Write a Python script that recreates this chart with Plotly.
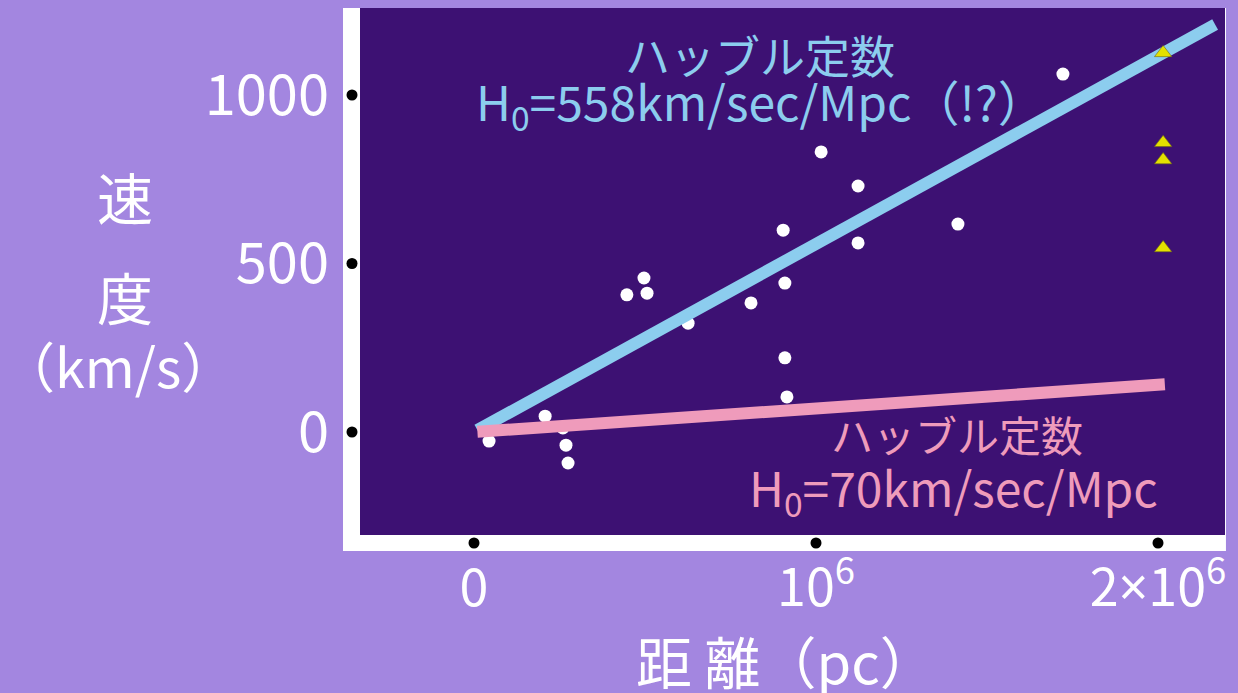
import plotly.graph_objects as go

# Galaxy distances (pc) and recession velocities (km/s)
dist_pc = [0.044e6, 0.208e6, 0.260e6, 0.269e6, 0.275e6, 0.447e6, 0.497e6, 0.506e6,
           0.626e6, 0.810e6, 0.909e6, 0.904e6, 0.909e6, 0.915e6, 1.015e6, 1.123e6,
           1.123e6, 1.415e6, 1.722e6]
vel_kms = [-27, 47, 12, -39, -92, 407, 457, 412,
           323, 383, 442, 599, 220, 104, 831, 730,
           561, 617, 1062]

# Cluster points plotted at the right edge
tri_dist_pc = [2.015e6, 2.015e6, 2.015e6, 2.015e6]
tri_vel_kms = [1125, 858, 807, 546]

# Hubble constants (km/s/Mpc) and extent of each line (pc)
h0_values = [558, 70]
line_start_pc = [0.01e6, 0.01e6]
line_end_pc = [2.167e6, 2.02e6]
line_colors = ["#8ccdee", "#ef9bbb"]

x_tickvals = [0, 1e6, 2e6]
x_ticktext = ["0", "10<sup>6</sup>",
              "2<span style='font-family:Noto Sans'>×</span>10<sup>6</sup>"]
y_tickvals = [0, 500, 1000]
y_ticktext = ["0", "500", "1000"]

BG = "#a386e0"
PLOT_BG = "#3d1173"
JP_FONT = "Noto Sans CJK JP"

fig = go.Figure()

fig.add_trace(go.Scatter(x=dist_pc, y=vel_kms, mode="markers", hoverinfo="skip",
                         marker=dict(color="white", size=13, line=dict(width=0))))

for h0, x0, x1, col in zip(h0_values, line_start_pc, line_end_pc, line_colors):
    xs = [x0, x1]
    ys = [h0 * x / 1e6 for x in xs]
    fig.add_trace(go.Scatter(x=xs, y=ys, mode="lines",
                             line=dict(color=col, width=12), hoverinfo="skip"))

fig.add_trace(go.Scatter(x=tri_dist_pc, y=tri_vel_kms, mode="markers", hoverinfo="skip",
                         marker=dict(symbol="triangle-up", color="#e3e000", size=15,
                                     line=dict(color="#6d6a10", width=0.6))))

shapes = [
    # white frame strip around the left and bottom of the plot
    dict(type="rect", xref="paper", yref="paper", layer="below",
         x0=-17 / 865, x1=1.0011, y0=-16 / 527, y1=1.0,
         fillcolor="white", line=dict(width=0)),
    dict(type="rect", xref="paper", yref="paper", layer="below",
         x0=0, x1=1, y0=0, y1=1, fillcolor=PLOT_BG, line=dict(width=0)),
]
for v in x_tickvals:
    shapes.append(dict(type="circle", xref="x", yref="paper",
                       xsizemode="pixel", ysizemode="pixel",
                       xanchor=v, yanchor=-8 / 527,
                       x0=-5.5, x1=5.5, y0=-5.5, y1=5.5,
                       fillcolor="black", line=dict(width=0)))
for v in y_tickvals:
    shapes.append(dict(type="circle", xref="paper", yref="y",
                       xsizemode="pixel", ysizemode="pixel",
                       xanchor=-8 / 865, yanchor=v,
                       x0=-5.5, x1=5.5, y0=-5.5, y1=5.5,
                       fillcolor="black", line=dict(width=0)))


def label(text, x, y, size, color, ref="x"):
    return dict(text=text, x=x, y=y, xref=ref, yref=ref.replace("x", "y"),
                xanchor="center", yanchor="middle", showarrow=False,
                font=dict(family=JP_FONT, size=size, color=color))


def px_x(px):
    return (px - 360) / 865


def px_y(py):
    return (535 - py) / 527


annotations = [
    label("ハッブル定数", 0.836e6, 1119, 45, line_colors[0]),
    label("H<sub>0</sub>=558km/sec/Mpc（!?）", 0.838e6, 975, 48, line_colors[0]),
    label("ハッブル定数", 1.412e6, -3, 42, line_colors[1]),
    label("H<sub>0</sub>=70km/sec/Mpc", 1.403e6, -168, 48, line_colors[1]),
    # axis titles
    label("速", px_x(125), px_y(195), 56, "white", "paper"),
    label("度", px_x(125), px_y(295), 56, "white", "paper"),
    label("（km/s）", px_x(118), px_y(364), 54, "white", "paper"),
    label("距 離（pc）", px_x(786), px_y(659), 56, "white", "paper"),
]

fig.update_layout(
    width=1238, height=693,
    margin=dict(l=360, r=13, t=8, b=158, autoexpand=False),
    paper_bgcolor=BG, plot_bgcolor="rgba(0,0,0,0)",
    showlegend=False,
    shapes=shapes, annotations=annotations,
    xaxis=dict(range=[-0.3333e6, 2.1959e6], showgrid=False, zeroline=False,
               showline=False, ticks="", tickvals=x_tickvals, ticktext=x_ticktext,
               tickfont=dict(family=JP_FONT, size=52, color="white"),
               ticklabelstandoff=18, ticklabeloverflow="allow", automargin=False),
    yaxis=dict(range=[-305.6, 1258.2], showgrid=False, zeroline=False,
               showline=False, ticks="", tickvals=y_tickvals, ticktext=y_ticktext,
               tickfont=dict(family=JP_FONT, size=56, color="white"),
               ticklabelstandoff=30, automargin=False),
)

fig.write_html("out.html")
